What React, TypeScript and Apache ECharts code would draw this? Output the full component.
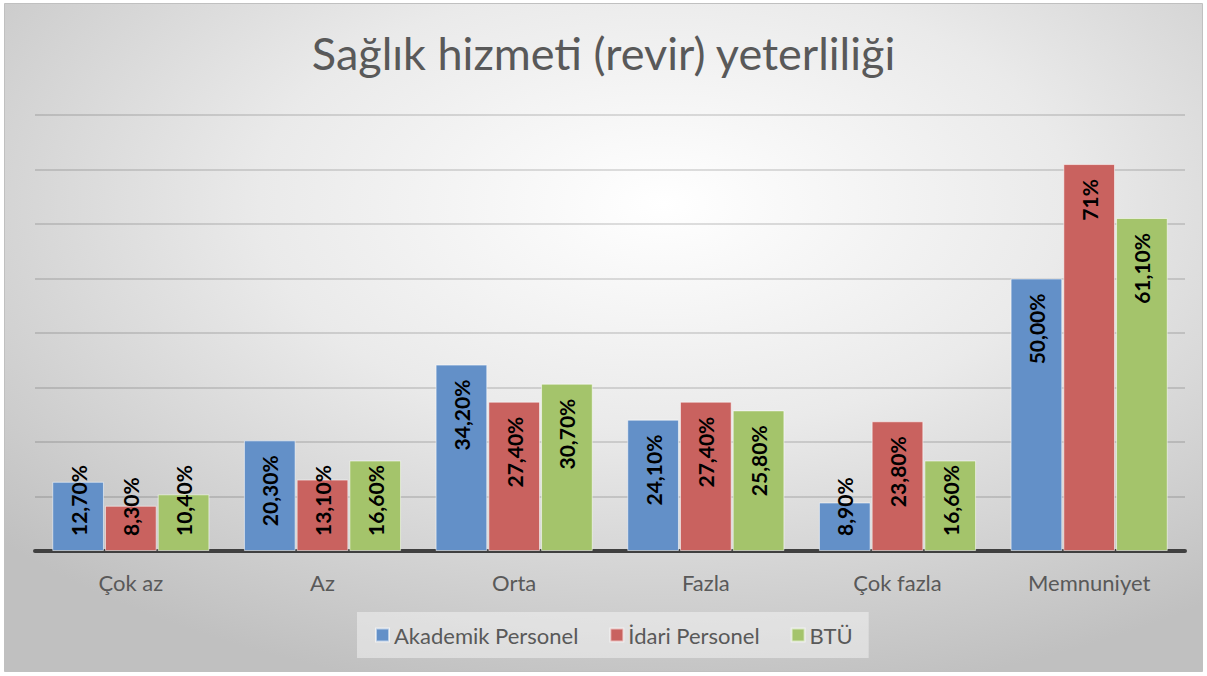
import React, { useEffect, useRef } from "react";
import * as echarts from "echarts";

const categories = ["Çok az", "Az", "Orta", "Fazla", "Çok fazla", "Memnuniyet"];
const akademik = [12.7, 20.3, 34.2, 24.1, 8.9, 50.0];
const idari = [8.3, 13.1, 27.4, 27.4, 23.8, 71];
const btu = [10.4, 16.6, 30.7, 25.8, 16.6, 61.1];
const akademikLabels = ["12,70%", "20,30%", "34,20%", "24,10%", "8,90%", "50,00%"];
const idariLabels = ["8,30%", "13,10%", "27,40%", "27,40%", "23,80%", "71%"];
const btuLabels = ["10,40%", "16,60%", "30,70%", "25,80%", "16,60%", "61,10%"];
const seriesNames = ["Akademik Personel", "İdari Personel", "BTÜ"];
const colors = ["#6390c8", "#c9625f", "#a4c46b"];

const FONT = "Lato, 'Open Sans', sans-serif";

function buildData(values: number[], labels: string[]) {
  return values.map((v, i) => {
    const short = v < 17 && labels[i].length > 3;
    return {
      value: v,
      label: short
        ? { position: "insideBottom", distance: 15, align: "left", verticalAlign: "middle", formatter: labels[i] }
        : { position: "insideTop", distance: 15, align: "right", verticalAlign: "middle", formatter: labels[i] },
    };
  });
}

export default function App() {
  const ref = useRef<HTMLDivElement>(null);
  useEffect(() => {
    const chart = echarts.init(ref.current!, null, { renderer: "svg" });
    const mk = (name: string, vals: number[], labs: string[], color: string) => ({
      name,
      type: "bar",
      data: buildData(vals, labs),
      barGap: "2%",
      barCategoryGap: "18%",
      itemStyle: { color, borderColor: "rgba(255,255,255,0.55)", borderWidth: 1 },
      label: {
        show: true,
        rotate: 90,
        color: "#000",
        fontWeight: "bold",
        fontSize: 21,
        fontFamily: FONT,
      },
    });
    chart.setOption({
      animation: false,
      backgroundColor: "#fff",
      graphic: [
        {
          type: "rect",
          z: -10,
          shape: { x: 4.5, y: 3.5, width: 1198, height: 668 },
          style: {
            fill: new echarts.graphic.RadialGradient(0.55, 0.3, 0.75, [
              { offset: 0, color: "#ffffff" },
              { offset: 0.45, color: "#eaeaea" },
              { offset: 1, color: "#c0c0c0" },
            ]),
            stroke: "#c0c0c0",
            lineWidth: 1,
          },
        },
      ],
      title: {
        text: "Sağlık hizmeti (revir) yeterliliği",
        left: "center",
        top: 25,
        textStyle: { fontFamily: FONT, fontSize: 45, fontWeight: "normal", color: "#595959" },
      },
      legend: {
        bottom: 18,
        left: 357,
        itemWidth: 13,
        itemHeight: 13,
        itemGap: 31,
        icon: "rect",
        backgroundColor: "rgba(255,255,255,0.42)",
        padding: [12, 16, 12, 18],
        textStyle: { fontFamily: FONT, fontSize: 22, color: "#595959" },
        data: seriesNames,
      },
      grid: { left: 35, right: 22, top: 115, bottom: 125, containLabel: false },
      xAxis: {
        type: "category",
        data: categories,
        axisLine: { lineStyle: { color: "#404040", width: 4 } },
        axisTick: { show: false },
        axisLabel: { fontFamily: FONT, fontSize: 22, color: "#595959", margin: 20 },
      },
      yAxis: {
        type: "value",
        min: 0,
        max: 80,
        interval: 10,
        axisLabel: { show: false },
        axisLine: { show: false },
        axisTick: { show: false },
        splitLine: { lineStyle: { color: "rgba(0,0,0,0.17)", width: 1.5 } },
      },
      series: [
        mk(seriesNames[0], akademik, akademikLabels, colors[0]),
        mk(seriesNames[1], idari, idariLabels, colors[1]),
        mk(seriesNames[2], btu, btuLabels, colors[2]),
      ],
    });
    return () => chart.dispose();
  }, []);
  return <div ref={ref} style={{ position: "fixed", left: 0, top: 0, width: 1207, height: 676 }} />;
}
